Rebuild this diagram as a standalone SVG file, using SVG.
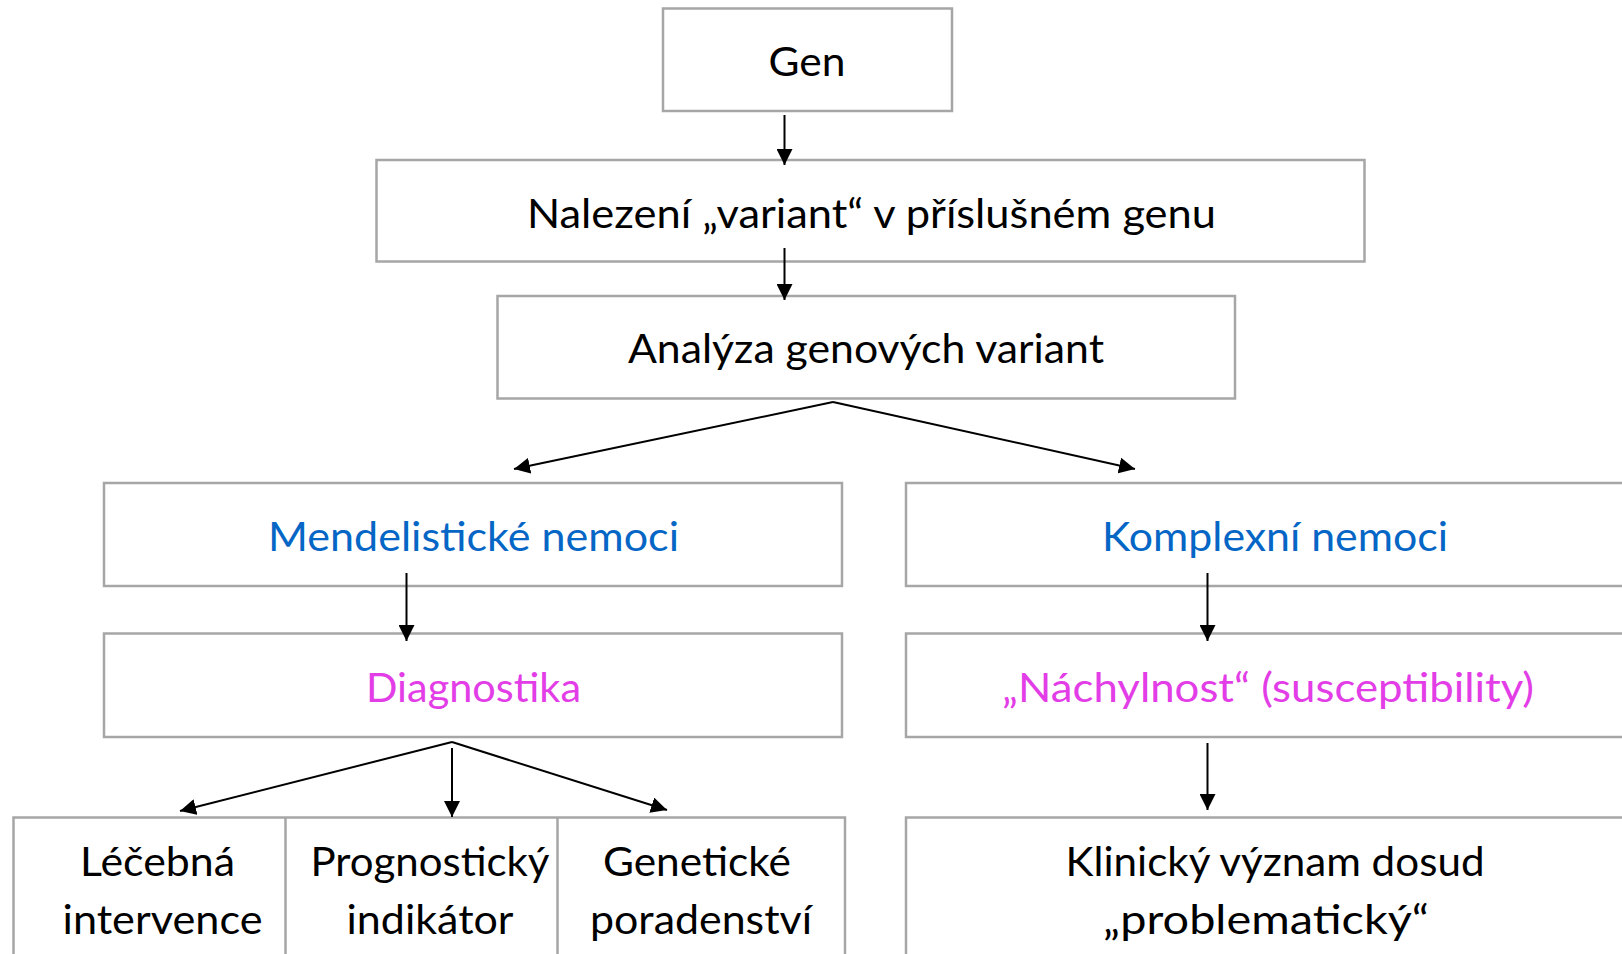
<svg xmlns="http://www.w3.org/2000/svg" width="1622" height="954" viewBox="0 0 1622 954">
  <style>
    .box { fill: #ffffff; stroke: #a6a6a6; stroke-width: 2.5; }
    .div { stroke: #a6a6a6; stroke-width: 2.5; fill: none; }
    .lbl { font-family: Lato, "Open Sans", "Liberation Sans", sans-serif; font-size: 41.5px; text-anchor: middle; fill: #000000; }
    .blue { fill: #0566c6; }
    .pink { fill: #e23de6; }
    .conn line { stroke: #000000; stroke-width: 2; fill: none; }
  </style>
  <defs>
    <marker id="arrow" markerUnits="userSpaceOnUse" markerWidth="16" markerHeight="16" refX="16" refY="8" orient="auto">
      <path d="M0,0 L16,8 L0,16 Z" fill="#000000"/>
    </marker>
  </defs>
  <rect width="1622" height="954" fill="#ffffff"/>

  <g id="gen">
    <rect class="box" x="663" y="8.5" width="289" height="102.5"/>
    <text class="lbl" x="807" y="76" textLength="77" lengthAdjust="spacingAndGlyphs">Gen</text>
  </g>

  <g id="nalezeni">
    <rect class="box" x="376.5" y="160" width="988" height="101.5"/>
    <text class="lbl" x="871.5" y="228" textLength="689" lengthAdjust="spacingAndGlyphs">Nalezení „variant“ v příslušném genu</text>
  </g>

  <g id="analyza">
    <rect class="box" x="497.5" y="296" width="737.5" height="102.5"/>
    <text class="lbl" x="866" y="363" textLength="476" lengthAdjust="spacingAndGlyphs">Analýza genových variant</text>
  </g>

  <g id="mendelisticke">
    <rect class="box" x="104" y="483" width="738" height="103"/>
    <text class="lbl blue" x="473.5" y="551" textLength="411" lengthAdjust="spacingAndGlyphs">Mendelistické nemoci</text>
  </g>

  <g id="komplexni">
    <rect class="box" x="906" y="483" width="738" height="103"/>
    <text class="lbl blue" x="1275" y="551" textLength="346" lengthAdjust="spacingAndGlyphs">Komplexní nemoci</text>
  </g>

  <g id="diagnostika">
    <rect class="box" x="104" y="633.5" width="738" height="103.5"/>
    <text class="lbl pink" x="473.5" y="702" textLength="215" lengthAdjust="spacingAndGlyphs">Diagnostika</text>
  </g>

  <g id="nachylnost">
    <rect class="box" x="906" y="633.5" width="738" height="103.5"/>
    <text class="lbl pink" x="1268" y="702" textLength="532" lengthAdjust="spacingAndGlyphs">„Náchylnost“ (susceptibility)</text>
  </g>

  <g id="vystupy">
    <rect class="box" x="13.5" y="817.5" width="831.5" height="160"/>
    <line class="div" x1="285.5" y1="817.5" x2="285.5" y2="960"/>
    <line class="div" x1="557.5" y1="817.5" x2="557.5" y2="960"/>
  </g>

  <g id="lecebna">
    <text class="lbl" x="157.5" y="876" textLength="155" lengthAdjust="spacingAndGlyphs">Léčebná</text>
    <text class="lbl" x="162.5" y="934" textLength="200" lengthAdjust="spacingAndGlyphs">intervence</text>
  </g>

  <g id="prognosticky">
    <text class="lbl" x="430" y="876" textLength="239" lengthAdjust="spacingAndGlyphs">Prognostický</text>
    <text class="lbl" x="430" y="934" textLength="167" lengthAdjust="spacingAndGlyphs">indikátor</text>
  </g>

  <g id="geneticke">
    <text class="lbl" x="697" y="876" textLength="188" lengthAdjust="spacingAndGlyphs">Genetické</text>
    <text class="lbl" x="701" y="934" textLength="222" lengthAdjust="spacingAndGlyphs">poradenství</text>
  </g>

  <g id="klinicky">
    <rect class="box" x="906" y="817.5" width="738" height="160"/>
    <text class="lbl" x="1275" y="876" textLength="419" lengthAdjust="spacingAndGlyphs">Klinický význam dosud</text>
    <text class="lbl" x="1266" y="934" textLength="326" lengthAdjust="spacingAndGlyphs">„problematický“</text>
  </g>

  <g id="connectors" class="conn">
    <line x1="784.5" y1="115" x2="784.5" y2="165" marker-end="url(#arrow)"/>
    <line x1="784.5" y1="248" x2="784.5" y2="300" marker-end="url(#arrow)"/>
    <line x1="833" y1="402" x2="514" y2="469" marker-end="url(#arrow)"/>
    <line x1="833" y1="402" x2="1135" y2="469" marker-end="url(#arrow)"/>
    <line x1="406.5" y1="573" x2="406.5" y2="641" marker-end="url(#arrow)"/>
    <line x1="1207.5" y1="573" x2="1207.5" y2="641" marker-end="url(#arrow)"/>
    <line x1="452" y1="742" x2="180" y2="811" marker-end="url(#arrow)"/>
    <line x1="452" y1="748" x2="452" y2="817" marker-end="url(#arrow)"/>
    <line x1="452" y1="742" x2="667" y2="810" marker-end="url(#arrow)"/>
    <line x1="1207.5" y1="743" x2="1207.5" y2="810" marker-end="url(#arrow)"/>
  </g>
</svg>
